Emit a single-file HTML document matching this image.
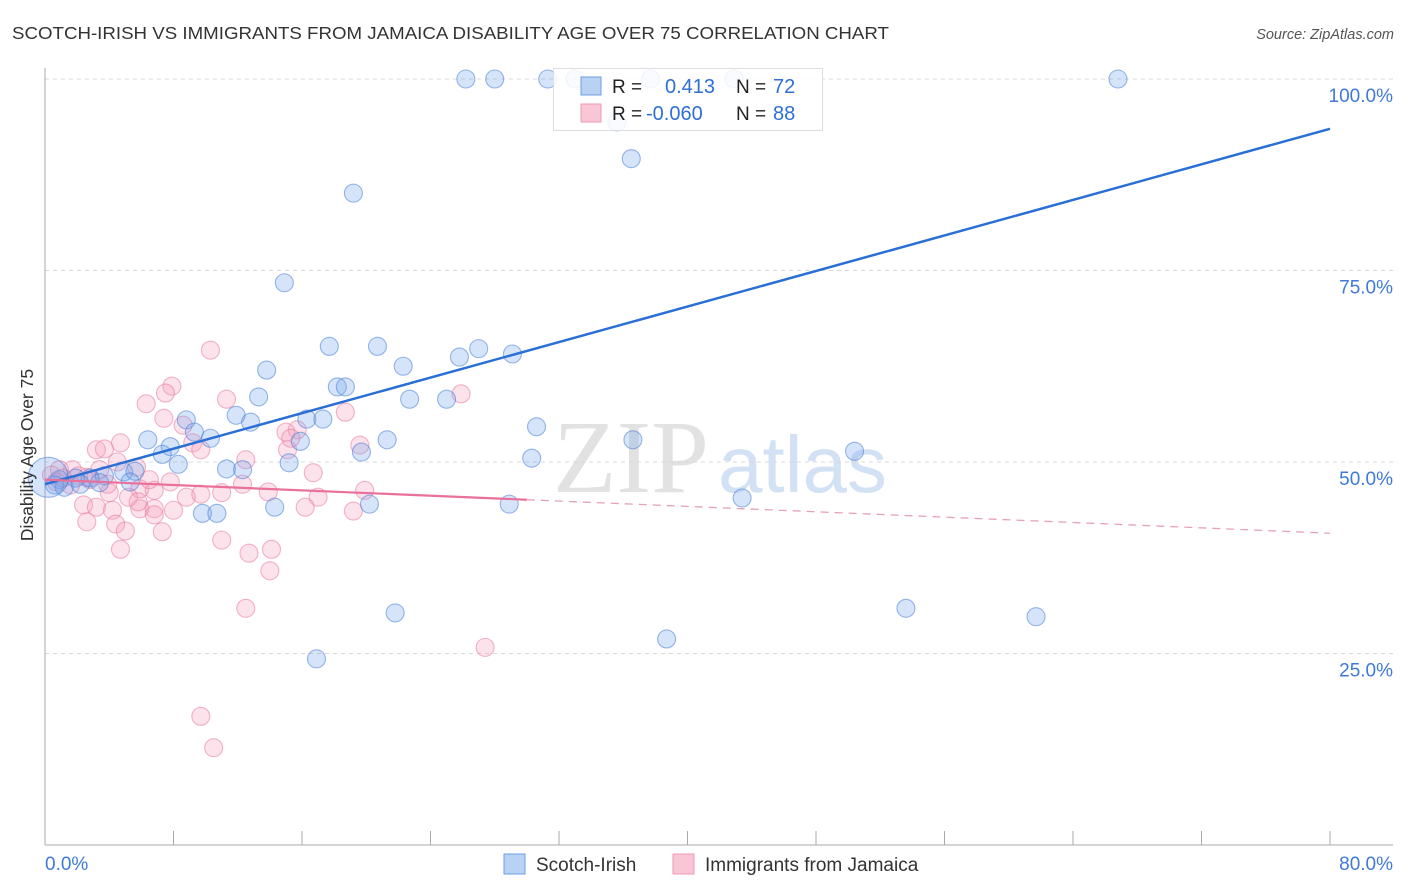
<!DOCTYPE html>
<html><head><meta charset="utf-8"><style>
body{margin:0;background:#fff;font-family:"Liberation Sans",sans-serif;}
svg{display:block}
</style></head><body>
<svg id="chart" width="1406" height="892" viewBox="0 0 1406 892">
<text x="12" y="39" font-size="17.5" fill="#333" textLength="877" lengthAdjust="spacingAndGlyphs">SCOTCH-IRISH VS IMMIGRANTS FROM JAMAICA DISABILITY AGE OVER 75 CORRELATION CHART</text>
<text x="1394" y="39" font-size="14.5" fill="#555" font-style="italic" text-anchor="end">Source: ZipAtlas.com</text>
<g>
<text x="553" y="492" font-family="Liberation Serif,serif" font-size="104" fill="#e2e2e2">ZIP</text>
<text x="718" y="492" font-size="80" fill="#d3e1f5">atlas</text>
</g>
<g id="grid"></g>
<g id="axes"></g>
<g id="pts"></g>
<g id="lines"></g>
<g>
<rect x="553.5" y="68.5" width="269" height="62" fill="rgba(255,255,255,0.85)" stroke="#ddd"/>
<rect x="581" y="77" width="20" height="18" fill="#b9d1f3" stroke="#6d9ee0"/>
<rect x="581" y="104" width="20" height="18" fill="#f9c6d6" stroke="#ef9ab5"/>
<g font-size="19" fill="#222">
<text x="612" y="93">R =</text><text x="612" y="120">R =</text>
<text x="736" y="93">N =</text><text x="736" y="120">N =</text>
</g>
<g font-size="20" fill="#2f6fd6">
<text x="665" y="93">0.413</text>
<text x="646" y="120">-0.060</text>
<text x="773" y="93">72</text>
<text x="773" y="120">88</text>
</g>
</g>
<text transform="translate(33,455) rotate(-90)" font-size="17.5" fill="#333" text-anchor="middle">Disability Age Over 75</text>
<g>
<rect x="504" y="854" width="21" height="20" fill="#b9d1f3" stroke="#6d9ee0"/>
<text x="536" y="871" font-size="19" fill="#333">Scotch-Irish</text>
<rect x="673" y="854" width="21" height="20" fill="#f9c6d6" stroke="#ef9ab5"/>
<text x="705" y="871" font-size="19" fill="#333">Immigrants from Jamaica</text>
</g>
</svg>
<script>
const blueX=[26.2,28.0,31.3,33.0,37.7,42.9,66.8,35.6,36.5,19.2,14.9,17.7,20.7,27.0,29.1,25.8,13.8,22.3,18.2,18.7,13.3,22.7,25.0,30.6,11.9,8.8,12.8,16.3,17.3,6.4,7.8,9.3,10.3,15.9,21.3,36.6,7.3,19.7,50.4,8.3,30.3,11.3,12.3,15.2,4.9,3.7,5.6,2.8,1.9,0.9,0.6,1.2,2.2,3.4,5.3,43.4,9.8,10.7,14.3,20.2,28.9,53.6,61.7,21.8,38.7,16.9,0.2];
const blueY=[100,100,100,100,100,100,100,94.4,89.6,85.1,73.4,65.1,65.1,64.8,64.1,63.7,62.0,62.5,59.8,59.8,58.5,58.2,58.2,54.6,56.1,55.5,55.2,55.6,55.6,52.9,52.0,53.9,53.1,52.7,52.9,52.9,51.0,51.3,51.4,49.7,50.5,49.1,49.0,49.9,48.7,48.2,48.8,47.9,47.9,47.7,47.0,46.7,47.1,47.3,47.4,45.3,43.3,43.3,44.1,44.5,44.5,30.9,29.8,30.3,26.9,24.3,48.0];
const blueR=[9,9,9,9,9,9,9,9,9,9,9,9,9,9,9,9,9,9,9,9,9,9,9,9,9,9,9,9,9,9,9,9,9,9,9,9,9,9,9,9,9,9,9,9,9,9,9,9,9,9,9,9,9,9,9,9,9,9,9,9,9,9,9,9,9,9,20];
const pinkX=[10.3,7.9,7.5,6.3,11.3,18.7,7.4,8.6,9.2,15.7,15.0,19.6,4.7,3.2,3.7,4.5,5.7,16.7,15.1,25.9,15.3,1.7,2.6,3.4,0.9,5.9,6.8,7.8,8.8,9.7,11.0,12.3,13.9,17.0,19.9,5.2,4.0,2.4,3.2,4.2,5.9,6.8,8.0,5.8,6.8,2.6,4.4,5.0,7.3,11.0,12.7,14.1,14.0,4.7,12.5,27.4,9.7,10.5,19.2,16.2,0.4,0.7,1.1,1.6,2.8,2.1,6.5,3.9,9.7,12.5];
const pinkY=[64.6,59.9,59.0,57.6,58.2,56.5,55.7,54.8,52.5,54.2,53.9,52.2,52.5,51.6,51.7,50.0,49.3,48.6,51.6,58.9,53.1,49.0,48.0,49.0,49.0,46.5,46.3,47.4,45.4,45.8,46.0,47.1,46.1,45.4,46.3,45.4,46.0,44.4,44.1,43.7,43.9,43.9,43.7,44.8,43.1,42.2,41.9,41.0,40.9,39.8,38.1,38.6,35.8,38.6,30.9,25.8,16.8,12.7,43.6,44.1,48.3,47.4,47.9,47.0,47.7,48.2,47.7,47.1,51.6,50.3];
const yTicks=[25,50,75,100];
const yTickLabels=["25.0%","50.0%","75.0%","100.0%"];
const xTicks=[0,8,16,24,32,40,48,56,64,72,80];
const blueTrend=[47.1,93.5]; // y at x=0, x=80
const pinkTrend=[47.7,40.7];
const pinkSolidEnd=30;
const NS="http://www.w3.org/2000/svg";
const X=v=>45+v/80*1285, Y=v=>845-v/100*766;
function mk(tag,attrs,parent){const e=document.createElementNS(NS,tag);for(const k in attrs)e.setAttribute(k,attrs[k]);parent.appendChild(e);return e;}
const grid=document.getElementById('grid'),axes=document.getElementById('axes'),pts=document.getElementById('pts'),lines=document.getElementById('lines');
yTicks.forEach((t,i)=>{
 const l=mk('line',{x1:45,x2:1393,y1:Y(t),y2:Y(t),stroke:'#d8d8d8','stroke-dasharray':'4,4'},grid);
 
 
 const tx=mk('text',{x:1393,y:Y(t)+23,'font-size':19,fill:'#3f7ad8','text-anchor':'end'},axes);
 tx.textContent=yTickLabels[i];
 
 
});
const ya=mk('line',{x1:45,x2:45,y1:68,y2:845,stroke:'#aaa'},axes);


const xa=mk('line',{x1:45,x2:1393,y1:845,y2:845,stroke:'#aaa'},axes);


xTicks.forEach(t=>{
 const l=mk('line',{x1:X(t),x2:X(t),y1:831,y2:845,stroke:'#aaa'},axes);
 
 
});
const x0=mk('text',{x:45,y:870,'font-size':19,fill:'#3f7ad8'},axes);x0.textContent='0.0%';


const x1=mk('text',{x:1393,y:870,'font-size':19,fill:'#3f7ad8','text-anchor':'end'},axes);x1.textContent='80.0%';


pinkX.forEach((v,i)=>{
 const c=mk('circle',{cx:X(v),cy:Y(pinkY[i]),r:9,fill:'rgba(245,160,188,0.3)',stroke:'rgba(232,120,158,0.55)','stroke-width':1.1},pts);
 
 
});
blueX.forEach((v,i)=>{
 const c=mk('circle',{cx:X(v),cy:Y(blueY[i]),r:blueR[i],fill:'rgba(120,165,235,0.3)',stroke:'rgba(70,125,215,0.55)','stroke-width':1.1},pts);
 
 
});
const bl=mk('line',{x1:X(0),y1:Y(blueTrend[0]),x2:X(80),y2:Y(blueTrend[1]),stroke:'#2a6fd6','stroke-width':2.5},lines);


const py=x=>pinkTrend[0]+(pinkTrend[1]-pinkTrend[0])*x/80;
const pl=mk('line',{x1:X(0),y1:Y(py(0)),x2:X(pinkSolidEnd),y2:Y(py(pinkSolidEnd)),stroke:'#e8709a','stroke-width':2.2},lines);


const pd=mk('line',{x1:X(pinkSolidEnd),y1:Y(py(pinkSolidEnd)),x2:X(80),y2:Y(py(80)),stroke:'#e8a0b8','stroke-width':1.3,'stroke-dasharray':'8,6'},lines);


</script>
</body></html>
